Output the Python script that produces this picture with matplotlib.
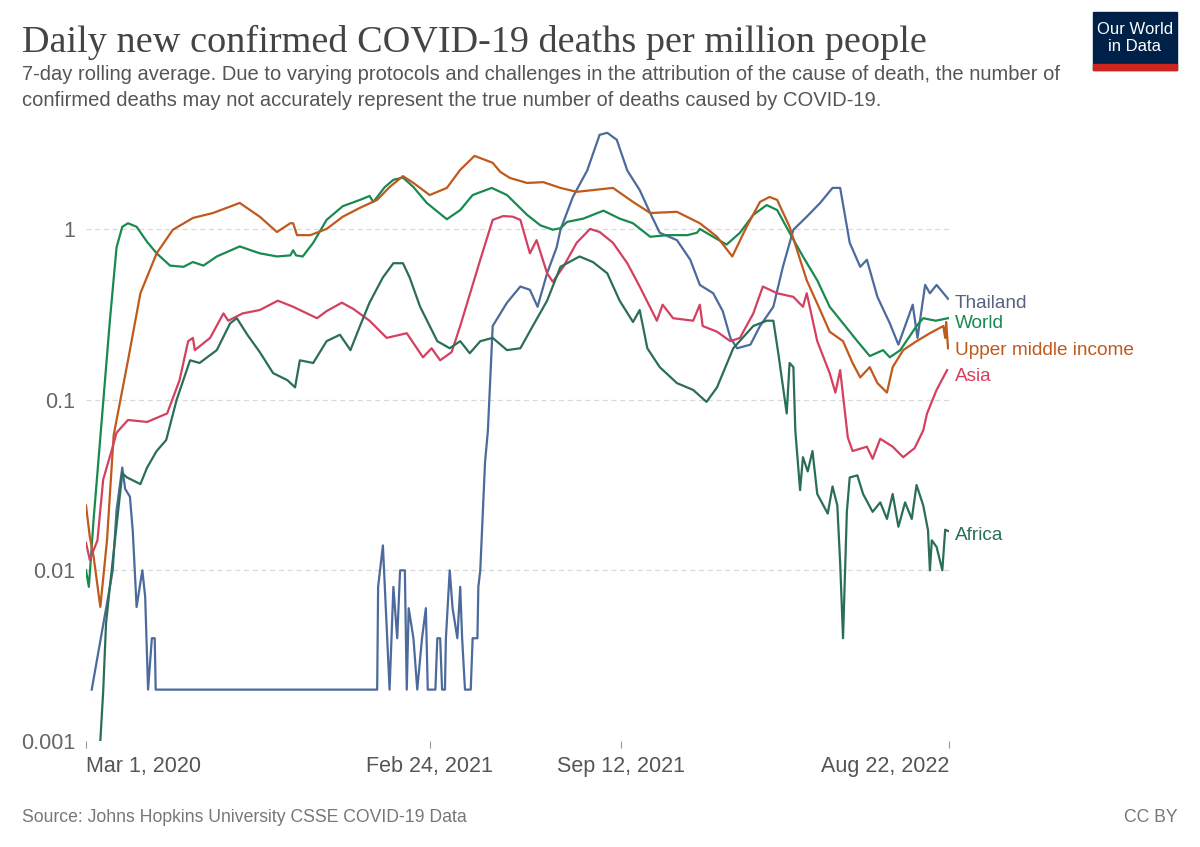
import pandas as pd
import matplotlib.pyplot as plt
from matplotlib.patches import Rectangle

# days counted from 1 March 2020, values = deaths per million (7-day avg)
start = pd.Timestamp('2020-03-01')

world_days = [0, 3, 8, 15, 25, 32, 38, 44, 53, 64, 74, 88, 102, 112, 123, 137, 161, 182, 200, 214, 217, 220,
              227, 238, 252, 269, 287, 297, 301, 313, 322, 332, 343, 357, 378, 392, 405, 425, 441, 462, 476,
              489, 497, 504, 521, 542, 559, 573, 591, 609, 630, 640, 643, 654, 671, 685, 699, 713, 724, 737,
              751, 766, 779, 793, 808, 821, 835, 842, 853, 870, 877, 890, 903]
world_vals = [0.010, 0.008, 0.02, 0.06, 0.29, 0.78, 1.03, 1.08, 1.03, 0.84, 0.72, 0.61, 0.60, 0.64, 0.61, 0.69,
              0.79, 0.72, 0.69, 0.70, 0.75, 0.70, 0.69, 0.83, 1.13, 1.36, 1.48, 1.56, 1.44, 1.76, 1.94, 2.0,
              1.76, 1.42, 1.14, 1.29, 1.58, 1.74, 1.58, 1.21, 1.05, 0.99, 1.01, 1.10, 1.15, 1.28, 1.15, 1.08,
              0.90, 0.92, 0.92, 0.95, 1.0, 0.92, 0.81, 0.95, 1.21, 1.38, 1.29, 0.95, 0.69, 0.50, 0.35, 0.28,
              0.22, 0.18, 0.195, 0.177, 0.195, 0.27, 0.30, 0.29, 0.30]

umi_days = [0, 4, 8, 15, 22, 29, 44, 57, 74, 91, 112, 133, 161, 182, 200, 214, 217, 221, 235, 252, 269, 287,
            305, 318, 332, 343, 360, 378, 392, 407, 426, 434, 444, 462, 479, 497, 514, 552, 573, 591, 619, 643,
            661, 677, 692, 706, 716, 724, 737, 755, 769, 779, 793, 803, 811, 821, 829, 839, 845, 856, 870,
            884, 898, 900, 901, 903]
umi_vals = [0.024, 0.0157, 0.012, 0.0061, 0.015, 0.062, 0.17, 0.42, 0.72, 0.99, 1.16, 1.24, 1.42, 1.18, 0.96,
            1.08, 1.08, 0.92, 0.92, 1.0, 1.18, 1.33, 1.48, 1.76, 2.04, 1.86, 1.58, 1.74, 2.22, 2.68, 2.44,
            2.16, 1.99, 1.86, 1.88, 1.74, 1.65, 1.74, 1.44, 1.24, 1.26, 1.08, 0.90, 0.69, 1.03, 1.44, 1.54,
            1.48, 1.03, 0.50, 0.335, 0.25, 0.22, 0.164, 0.135, 0.155, 0.125, 0.11, 0.155, 0.195, 0.22, 0.245,
            0.27, 0.23, 0.285, 0.20]

asia_days = [0, 4, 12, 18, 28, 32, 44, 64, 85, 98, 107, 112, 114, 130, 144, 149, 164, 182, 201, 217, 242,
             252, 268, 280, 297, 315, 336, 353, 362, 371, 383, 392, 413, 426, 437, 447, 455, 465, 472, 483,
             489, 500, 514, 528, 538, 552, 567, 580, 598, 604, 615, 636, 643, 646, 661, 675, 685, 699, 709,
             724, 741, 751, 755, 766, 779, 785, 790, 798, 803, 818, 824, 832, 845, 856, 868, 877, 881, 891,
             902]
asia_vals = [0.0145, 0.0115, 0.015, 0.034, 0.053, 0.064, 0.076, 0.074, 0.083, 0.13, 0.22, 0.23, 0.195, 0.23,
             0.32, 0.29, 0.32, 0.335, 0.38, 0.35, 0.30, 0.33, 0.37, 0.34, 0.29, 0.23, 0.245, 0.177, 0.20,
             0.17, 0.19, 0.27, 0.66, 1.13, 1.19, 1.18, 1.13, 0.72, 0.86, 0.55, 0.49, 0.60, 0.83, 1.0, 0.96,
             0.83, 0.63, 0.46, 0.29, 0.36, 0.30, 0.29, 0.36, 0.27, 0.25, 0.22, 0.23, 0.32, 0.46, 0.42, 0.40,
             0.35, 0.42, 0.22, 0.143, 0.11, 0.149, 0.06, 0.05, 0.053, 0.045, 0.059, 0.053, 0.046, 0.052,
             0.066, 0.083, 0.114, 0.149]

thai_days = [6, 25, 28, 32, 38, 41, 46, 49, 53, 59, 62, 65, 69, 72, 73, 305, 306, 311, 318, 322, 326, 329,
             334, 336, 338, 343, 347, 352, 356, 358, 366, 368, 371, 373, 376, 377, 381, 384, 389, 392, 394,
             397, 403, 405, 410, 411, 413, 418, 421, 426, 441, 455, 465, 473, 483, 493, 497, 510, 525, 538,
             546, 556, 567, 580, 591, 601, 619, 633, 643, 657, 667, 675, 682, 696, 706, 720, 730, 741, 755,
             769, 782, 790, 800, 811, 818, 829, 842, 851, 860, 866, 871, 879, 884, 891, 903]
thai_vals = [0.002, 0.008, 0.01, 0.0225, 0.04, 0.03, 0.027, 0.017, 0.0061, 0.01, 0.007, 0.002, 0.004, 0.004,
             0.002, 0.002, 0.008, 0.014, 0.002, 0.008, 0.004, 0.01, 0.01, 0.002, 0.006, 0.004, 0.002, 0.004,
             0.006, 0.002, 0.002, 0.004, 0.004, 0.002, 0.002, 0.004, 0.01, 0.006, 0.004, 0.008, 0.004,
             0.002, 0.002, 0.004, 0.004, 0.008, 0.01, 0.043, 0.066, 0.27, 0.37, 0.46, 0.44, 0.35, 0.55,
             0.78, 0.99, 1.54, 2.2, 3.56, 3.66, 3.33, 2.2, 1.69, 1.24, 0.95, 0.86, 0.66, 0.47, 0.42, 0.33,
             0.23, 0.20, 0.21, 0.27, 0.35, 0.60, 0.99, 1.18, 1.42, 1.74, 1.74, 0.83, 0.60, 0.66, 0.40, 0.28,
             0.21, 0.29, 0.36, 0.23, 0.47, 0.42, 0.47, 0.39]

africa_days = [15, 18, 21, 25, 38, 43, 57, 64, 74, 84, 95, 109, 119, 137, 151, 158, 169, 182, 196, 211, 219,
               224, 238, 252, 266, 277, 287, 297, 311, 322, 332, 339, 350, 368, 381, 392, 402, 413, 426, 441,
               455, 468, 483, 497, 517, 531, 546, 559, 573, 580, 588, 601, 619, 636, 650, 661, 678, 699, 713,
               720, 725, 734, 737, 741, 743, 748, 751, 756, 761, 766, 777, 782, 787, 790, 793, 797, 800, 808,
               814, 824, 832, 839, 845, 851, 858, 865, 870, 877, 882, 884, 886, 891, 897, 900, 903]
africa_vals = [0.001, 0.00195, 0.0049, 0.008, 0.037, 0.035, 0.032, 0.04, 0.05, 0.058, 0.1, 0.17, 0.164,
               0.195, 0.28, 0.30, 0.24, 0.19, 0.143, 0.13, 0.118, 0.17, 0.164, 0.22, 0.24, 0.195, 0.27, 0.37,
               0.52, 0.63, 0.63, 0.52, 0.35, 0.22, 0.20, 0.22, 0.187, 0.22, 0.23, 0.195, 0.20, 0.27, 0.38,
               0.60, 0.69, 0.64, 0.55, 0.38, 0.285, 0.335, 0.20, 0.155, 0.125, 0.114, 0.097, 0.118, 0.20,
               0.27, 0.29, 0.29, 0.19, 0.083, 0.164, 0.155, 0.066, 0.0295, 0.046, 0.038, 0.05, 0.028, 0.0215,
               0.031, 0.024, 0.011, 0.004, 0.022, 0.035, 0.036, 0.028, 0.022, 0.025, 0.02, 0.028, 0.018,
               0.025, 0.02, 0.0316, 0.024, 0.0172, 0.01, 0.015, 0.0137, 0.01, 0.0173, 0.017]

tick_dates = ['2020-03-01', '2021-02-24', '2021-09-12', '2022-08-22']
tick_labels = ['Mar 1, 2020', 'Feb 24, 2021', 'Sep 12, 2021', 'Aug 22, 2022']


def to_dates(days):
    return start + pd.to_timedelta(days, unit='D')


series = [
    ('Thailand', thai_days, thai_vals, '#4c6a9c', '#58617f'),
    ('World', world_days, world_vals, '#198a4f', '#198a4f'),
    ('Upper middle income', umi_days, umi_vals, '#c0591c', '#c0591c'),
    ('Asia', asia_days, asia_vals, '#d4405f', '#d4405f'),
    ('Africa', africa_days, africa_vals, '#2b6e58', '#2b6e58'),
]
label_y = {'Thailand': 0.368, 'World': 0.281, 'Upper middle income': 0.193, 'Asia': 0.137, 'Africa': 0.0161}

fig = plt.figure(figsize=(12, 8.47), dpi=100)
ax = fig.add_axes([86 / 1200, 1 - 741 / 847, 863 / 1200, 611 / 847])

for name, d, v, c, tc in series:
    ax.plot(to_dates(d), v, color=c, lw=1.6, solid_joinstyle='round')
    ax.text(1.007, label_y[name], name, transform=ax.get_yaxis_transform(), color=tc,
            fontsize=13.7, va='center', ha='left', family='Liberation Sans')

ax.set_yscale('log')
ax.set_ylim(0.001, 3.8)
ax.set_xlim(pd.Timestamp('2020-03-01'), pd.Timestamp('2022-08-22'))
ax.set_yticks([0.001, 0.01, 0.1, 1])
ax.set_yticklabels(['0.001', '0.01', '0.1', '1'])
ax.minorticks_off()
ax.yaxis.grid(True, linestyle=(0, (4, 3)), color='#d9d9d9', lw=0.9)
ax.tick_params(axis='y', length=0, pad=8, labelsize=15.5, labelcolor='#666666')
ax.set_xticks(pd.to_datetime(tick_dates))
ax.set_xticklabels(tick_labels)
ax.tick_params(axis='x', length=5, color='#999999', width=0.8, pad=6, labelsize=15.5, labelcolor='#555555')
xl = ax.get_xticklabels()
xl[0].set_ha('left')
xl[-1].set_ha('right')
for t in ax.get_xticklabels() + ax.get_yticklabels():
    t.set_family('Liberation Sans')
for s in ax.spines.values():
    s.set_visible(False)

# titles
fig.text(22 / 1200, 1 - 42 / 847, 'Daily new confirmed COVID-19 deaths per million people',
         family='Liberation Serif', fontsize=27.5, color='#444444', va='center')
fig.text(22 / 1200, 1 - 75 / 847, '7-day rolling average. Due to varying protocols and challenges in the '
         'attribution of the cause of death, the number of', family='Liberation Sans', fontsize=14.5,
         color='#555555', va='center')
fig.text(22 / 1200, 1 - 101 / 847, 'confirmed deaths may not accurately represent the true number of '
         'deaths caused by COVID-19.', family='Liberation Sans', fontsize=14.5, color='#555555', va='center')
fig.text(22 / 1200, 1 - 817 / 847, 'Source: Johns Hopkins University CSSE COVID-19 Data',
         family='Liberation Sans', fontsize=12.7, color='#777777', va='center')
fig.text(1178 / 1200, 1 - 817 / 847, 'CC BY', family='Liberation Sans', fontsize=12.7, color='#777777',
         va='center', ha='right')

# OWID logo
fig.patches.append(Rectangle((1093 / 1200, 1 - 70 / 847), 84 / 1200, 58 / 847, transform=fig.transFigure,
                             color='#002147'))
fig.patches.append(Rectangle((1093 / 1200, 1 - 70 / 847), 84 / 1200, 6 / 847, transform=fig.transFigure,
                             color='#ce261e'))
fig.text(1135 / 1200, 1 - 38 / 847, 'Our World\nin Data', family='Liberation Sans', fontsize=12,
         color='white', ha='center', va='center', linespacing=1.15)

fig.savefig('out.png', dpi=100, facecolor='white')
